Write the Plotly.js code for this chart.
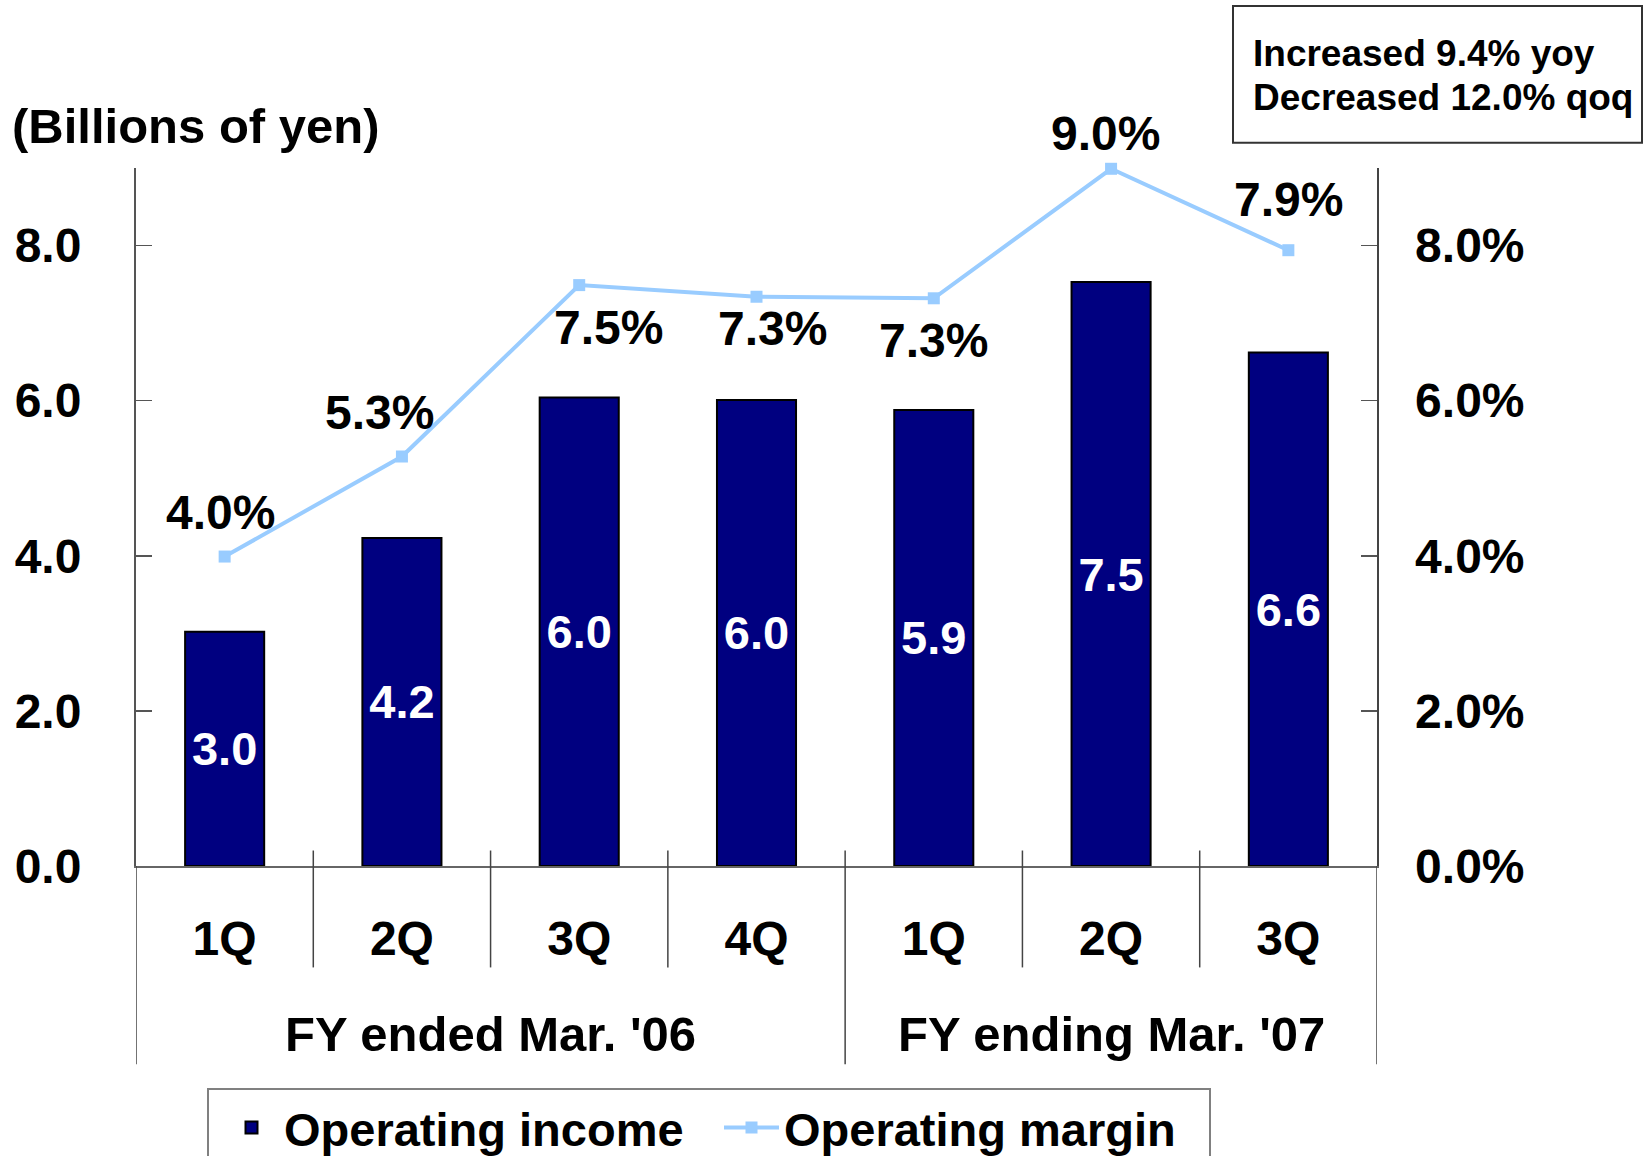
<!DOCTYPE html>
<html>
<head>
<meta charset="utf-8">
<script src="https://cdn.plot.ly/plotly-3.0.1.min.js"></script>
<style>
  html, body { margin: 0; padding: 0; background: #ffffff; }
  #chart { width: 1647px; height: 1156px; }
</style>
</head>
<body>
<div id="chart"></div>
<script>
// ---- data ----
const quarters = ['1Q', '2Q', '3Q', '4Q', '1Q', '2Q', '3Q'];
const fiscalYears = ["FY ended Mar. '06", "FY ending Mar. '07"];
const fiscalYearOfQuarter = [0, 0, 0, 0, 1, 1, 1];
const operatingIncome = [3.02, 4.23, 6.04, 6.01, 5.88, 7.53, 6.62];   // billions of yen
const operatingMargin = [3.99, 5.28, 7.49, 7.34, 7.32, 8.99, 7.94];   // %
const leftTickValues = [0, 2, 4, 6, 8];
const rightTickValues = [0, 2, 4, 6, 8];
const leftTickText = ['0.0', '2.0', '4.0', '6.0', '8.0'];
const rightTickText = ['0.0%', '2.0%', '4.0%', '6.0%', '8.0%'];
const yoyNote = 'Increased 9.4% yoy';
const qoqNote = 'Decreased 12.0% qoq';
const unitLabel = '(Billions of yen)';
const seriesNames = ['Operating income', 'Operating margin'];

// ---- layout helpers (positions/styles, not data) ----
const FONT = 'Liberation Sans, Arial, Helvetica, sans-serif';
const W = 1647, H = 1156;
const ML = 136, MR = 270, MT = 168, MB = 289.5;
const plotW = W - ML - MR, plotH = H - MT - MB;
const px2x = p => (p - ML) / plotW;
const py2y = p => (H - MB - p) / plotH;

const xIdx = quarters.map((q, i) => i);

// offsets of margin labels relative to their markers (px)
const marginLabelShift = [
  [-4, 44], [-22, 44], [29, -42], [16, -32], [0, -42], [-6, 35], [0, 51]
];

const traces = [
  {
    type: 'bar',
    name: seriesNames[0],
    x: xIdx,
    y: operatingIncome,
    width: 0.446,
    marker: { color: '#000080', line: { color: '#000000', width: 2 } },
    texttemplate: '%{y:.1f}',
    textposition: 'inside',
    insidetextanchor: 'middle',
    constraintext: 'none',
    textangle: 0,
    textfont: { family: FONT, size: 47, color: '#ffffff', weight: 'bold' },
    hoverinfo: 'skip'
  },
  {
    type: 'scatter',
    mode: 'lines+markers',
    name: seriesNames[1],
    x: xIdx,
    y: operatingMargin,
    yaxis: 'y2',
    line: { color: '#99CCFF', width: 4 },
    marker: { symbol: 'square', size: 12, color: '#99CCFF' },
    cliponaxis: false,
    hoverinfo: 'skip'
  }
];

const shapes = [];
const divColor = '#444444';
// inner quarter dividers and fiscal-year dividers
for (let i = 0; i < quarters.length - 1; i++) {
  const sameFY = fiscalYearOfQuarter[i] === fiscalYearOfQuarter[i + 1];
  shapes.push({
    type: 'line', xref: 'x', yref: 'paper', layer: 'above',
    x0: i + 0.5, x1: i + 0.5,
    y0: py2y(851), y1: sameFY ? py2y(968) : py2y(1065),
    line: { color: divColor, width: 1.5 }
  });
}
// outer edges below axis
[-0.5, quarters.length - 0.5].forEach(xv => {
  shapes.push({
    type: 'line', xref: 'x', yref: 'paper',
    x0: xv, x1: xv, y0: 0, y1: py2y(1065),
    line: { color: divColor, width: 1.5 }
  });
});
// note box
shapes.push({
  type: 'rect', xref: 'paper', yref: 'paper',
  x0: px2x(1233), x1: px2x(1642), y0: py2y(142.7), y1: py2y(6),
  line: { color: '#333333', width: 2 }, fillcolor: 'rgba(0,0,0,0)'
});

const annotations = [];
// margin labels
operatingMargin.forEach((v, i) => {
  annotations.push({
    x: xIdx[i], y: v, xref: 'x', yref: 'y2',
    text: v.toFixed(1) + '%',
    showarrow: false, xanchor: 'center', yanchor: 'middle',
    xshift: marginLabelShift[i][0], yshift: marginLabelShift[i][1],
    font: { family: FONT, size: 48, color: '#000000', weight: 'bold' }
  });
});
// fiscal year group labels
fiscalYears.forEach((fy, g) => {
  const members = xIdx.filter(i => fiscalYearOfQuarter[i] === g);
  const center = members.reduce((a, b) => a + b, 0) / members.length;
  annotations.push({
    x: center, y: py2y(1034.2), xref: 'x', yref: 'paper',
    text: fy, showarrow: false, xanchor: 'center', yanchor: 'middle',
    font: { family: FONT, size: 49, color: '#000000', weight: 'bold' }
  });
});
// unit label
annotations.push({
  x: px2x(10), y: py2y(125.5), xref: 'paper', yref: 'paper',
  text: unitLabel, showarrow: false, xanchor: 'left', yanchor: 'middle',
  font: { family: FONT, size: 49, color: '#000000', weight: 'bold' }
});
// note text (two lines)
[[yoyNote, 53], [qoqNote, 97.5]].forEach(([t, cy]) => {
  annotations.push({
    x: px2x(1251), y: py2y(cy), xref: 'paper', yref: 'paper',
    text: t, showarrow: false,
    xanchor: 'left', yanchor: 'middle', align: 'left',
    font: { family: FONT, size: 37, color: '#000000', weight: 'bold' }
  });
});

const layout = {
  width: W, height: H,
  margin: { l: ML, r: MR, t: MT, b: MB, autoexpand: false },
  paper_bgcolor: '#ffffff', plot_bgcolor: '#ffffff',
  showlegend: true,
  xaxis: {
    range: [-0.5, quarters.length - 0.5],
    tickvals: xIdx, ticktext: quarters,
    showgrid: false, zeroline: false,
    showline: true, linecolor: '#666666', linewidth: 2,
    ticks: '', ticklabelstandoff: 29,
    tickfont: { family: FONT, size: 48, color: '#000000', weight: 'bold' },
    fixedrange: true
  },
  yaxis: {
    range: [0, 9],
    tickvals: leftTickValues, ticktext: leftTickText,
    showgrid: false, zeroline: false,
    showline: true, linecolor: '#555555', linewidth: 2,
    ticks: 'inside', ticklen: 16, tickcolor: '#555555', tickwidth: 1.5,
    ticklabelstandoff: 43,
    tickfont: { family: FONT, size: 48, color: '#000000', weight: 'bold' },
    fixedrange: true
  },
  yaxis2: {
    range: [0, 9], overlaying: 'y', side: 'right',
    tickvals: rightTickValues, ticktext: rightTickText,
    showgrid: false, zeroline: false,
    showline: true, linecolor: '#444444', linewidth: 1.5,
    ticks: 'inside', ticklen: 16, tickcolor: '#555555', tickwidth: 1.5,
    ticklabelstandoff: 27,
    tickfont: { family: FONT, size: 48, color: '#000000', weight: 'bold' },
    fixedrange: true
  },
  legend: {
    orientation: 'h',
    x: px2x(207), y: py2y(1089), xanchor: 'left', yanchor: 'top',
    bgcolor: '#ffffff', bordercolor: '#808080', borderwidth: 2,
    indentation: 10,
    itemwidth: 55, entrywidth: 420, entrywidthmode: 'pixels',
    font: { family: FONT, size: 47, color: '#000000', weight: 'bold' }
  },
  shapes: shapes,
  annotations: annotations
};

Plotly.newPlot('chart', traces, layout, { displayModeBar: false, staticPlot: true });
</script>
</body>
</html>
